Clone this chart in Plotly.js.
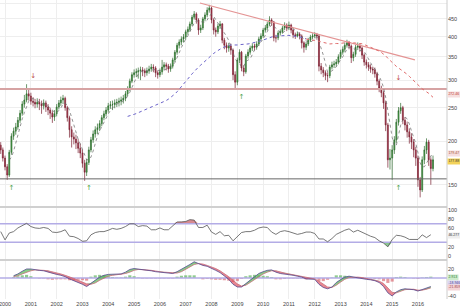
<!DOCTYPE html>
<html><head><meta charset="utf-8">
<script src="https://cdn.plot.ly/plotly-3.0.1.min.js"></script>
<style>html,body{margin:0;padding:0;background:#fff}#chart{width:460px;height:308px}</style>
</head><body><div id="chart"></div>
<script>
// ---- data (monthly candles, first candle Nov 1999) ----
const startYear = 1999, startMonth = 11;
const open = [195,189,179,169,160,186,207,214,220,230,241,256,263,274,270,261,259,256,259,256,253,258,251,246,241,235,240,251,258,263,266,250,234,216,206,203,198,191,185,173,163,174,189,202,210,216,219,225,234,240,246,253,255,255,258,259,261,263,266,274,283,298,311,315,317,319,321,319,315,319,323,327,325,315,311,317,327,332,329,323,329,343,361,378,386,394,399,413,420,435,455,465,447,418,424,450,462,477,484,447,418,413,429,435,391,378,371,376,366,311,296,343,361,325,317,352,361,371,376,373,381,394,402,418,424,435,447,441,397,397,410,413,424,432,424,432,418,405,402,407,402,384,373,381,391,399,402,405,402,329,321,315,309,309,327,332,334,338,350,361,368,378,384,376,348,356,373,376,371,354,338,332,327,323,321,313,298,284,276,258,223,177,179,189,202,227,245,250,230,223,213,206,199,189,179,155,145,177,189,199,177,167];
const high = [199,192,182,172,189,211,219,226,235,246,261,272,292,282,276,268,265,266,265,262,264,262,256,250,245,246,256,263,269,272,269,253,237,221,212,209,203,197,189,177,178,193,206,215,221,225,230,238,245,251,258,261,262,264,265,267,269,272,279,288,303,316,322,324,326,328,327,324,326,330,334,333,329,320,324,343,338,337,334,335,348,366,384,393,401,407,419,428,442,462,474,470,452,433,456,470,486,494,488,452,425,436,444,438,397,385,384,382,370,318,348,368,364,331,357,368,377,383,382,388,400,409,424,432,442,458,452,444,405,416,420,430,440,437,442,436,422,411,414,412,406,388,387,397,405,409,412,410,405,336,327,320,316,332,339,341,345,356,367,375,385,392,389,380,362,379,385,382,375,358,344,338,333,328,326,317,302,289,280,262,226,190,195,207,232,251,258,253,235,228,218,211,203,193,182,158,181,194,204,202,180,182];
const low = [184,175,165,155,158,183,202,209,216,226,237,250,259,262,255,252,249,250,246,240,247,243,238,232,226,229,236,247,253,256,245,228,205,192,196,190,185,179,168,154,159,171,186,198,205,210,214,221,230,236,242,248,246,249,251,252,254,257,261,270,279,294,305,306,303,300,308,306,309,313,317,316,306,303,306,311,321,320,315,317,324,338,355,370,378,385,392,405,414,429,448,436,405,410,418,443,455,469,437,406,400,407,421,383,368,360,362,355,300,283,290,336,318,308,313,346,355,364,365,367,376,389,397,411,417,429,430,388,385,391,403,408,418,415,418,409,396,394,398,393,370,360,366,376,386,393,396,392,318,312,306,300,296,304,322,325,328,333,345,355,362,372,368,336,340,350,366,362,345,330,324,319,315,312,305,290,277,268,248,214,168,166,155,184,198,222,240,224,215,205,197,190,180,170,148,138,143,172,184,170,150,164];
const close = [189,179,169,160,186,207,214,220,230,241,256,263,274,270,261,259,256,259,256,253,258,251,246,241,235,240,251,258,263,266,250,234,216,206,203,198,191,185,173,163,174,189,202,210,216,219,225,234,240,246,253,255,255,258,259,261,263,266,274,283,298,311,315,317,319,321,319,315,319,323,327,325,315,311,317,327,332,329,323,329,343,361,378,386,394,399,413,420,435,455,465,447,418,424,450,462,477,484,447,418,413,429,435,391,378,371,376,366,311,296,343,361,325,317,352,361,371,376,373,381,394,402,418,424,435,447,441,397,397,410,413,424,432,424,432,418,405,402,407,402,384,373,381,391,399,402,405,402,329,321,315,309,309,327,332,334,338,350,361,368,378,384,376,348,356,373,376,371,354,338,332,327,323,321,313,298,284,276,258,223,177,179,189,202,227,245,250,230,223,213,206,199,189,179,155,145,177,189,199,177,167,177];

// indicators, one value every second month (same start)
const rsi = [53,35,50,53,61,66,71,64,61,60,62,60,52,51,53,57,43,42,38,32,33,46,51,53,53,56,60,58,60,64,70,70,64,66,65,57,57,61,57,57,65,74,74,75,79,78,62,62,67,52,47,53,44,45,33,42,51,53,53,56,61,63,62,52,47,53,55,53,50,47,49,52,52,49,37,37,31,38,47,52,56,59,52,56,51,46,43,40,33,28,20,36,45,44,41,36,36,36,46,40,46.277];
const macd = [null,null,null,5,9,15,20,20,18,17,16,13,10,8,6,3,-2,-6,-9,-14,-19,-11,-5,2,6,8,8,8,9,13,19,21,20,18,17,16,14,13,12,11,10,14,19,25,30,36,32,28,26,22,17,12,5,-3,-14,-20,-20,-12,-4,4,10,14,17,18,13,10,9,8,6,4,2,-2,-3,-3,-14,-21,-24,-20,-10,-3,2,4,2,1,-1,-3,-4,-6,-10,-19,-33,-40,-31,-26,-24,-25,-26,-29,-26,-23,-19];
const signal = [null,null,null,3,5,9,13,16,18,18,17,16,14,11,9,6,3,-1,-5,-9,-13,-14,-11,-5,0,4,6,7,8,10,13,17,19,19,18,17,15,14,13,12,11,11,14,19,24,30,32,31,28,25,21,16,10,3,-5,-13,-18,-16,-10,-3,4,9,13,16,16,13,11,9,7,5,3,1,-1,-2,-7,-14,-20,-21,-16,-9,-3,1,2,2,1,-1,-3,-4,-7,-12,-22,-32,-33,-29,-26,-25,-25,-27,-27,-25,-22];

const supportLevel = 156;
const resistanceLevel = 283;
const trendDates = ['2007-07-21','2015-11-19'];
const trendPrices = [500, 343];
const upArrowDates = ['2000-04-01','2003-04-01','2009-03-01','2015-04-01'];
const upArrowPrices = [147, 147, 268, 147];
const downArrowDates = ['2001-02-01','2015-04-01'];
const downArrowPrices = [307, 303];
const rsiLevels = [70, 30];
const yearTicks = [2000,2001,2002,2003,2004,2005,2006,2007,2008,2009,2010,2011,2012,2013,2014,2015,2016];
const priceTicks = [150,200,250,300,350,400,450,500];
const rsiTicks = [0,20,60,80,100];
const macdTicks = [20,-40];
const priceLabels = ['272.46','179.47','177.88'];
const rsiLabel = '46.277';
const macdLabels = ['2.913','-18.946','-21.859'];

// ---- derived ----
const dates = close.map((_, i) => {
  const m0 = startMonth - 1 + i;
  const y = startYear + Math.floor(m0 / 12);
  const m = (m0 % 12) + 1;
  return y + '-' + String(m).padStart(2, '0') + '-01';
});
const indDates = dates.filter((_, i) => i % 2 === 0);
function sma(arr, n) {
  return arr.map((_, i) => i < n - 1 ? null : arr.slice(i - n + 1, i + 1).reduce((a, b) => a + b, 0) / n);
}
const shortMA = sma(close, 5);
const longMA = sma(close, 46);
const xRange = ['1999-10-22', '2017-02-15'];
const hist = macd.map((v, i) => v === null ? null : v - signal[i]);
const mDates = indDates.slice(3), mM = macd.slice(3), mS = signal.slice(3);

const traces = [];
traces.push({x: xRange, y: [resistanceLevel, resistanceLevel], mode: 'lines', line: {color: '#d6a3a3', width: 2}, hoverinfo: 'skip'});
traces.push({x: xRange, y: [supportLevel, supportLevel], mode: 'lines', line: {color: '#666', width: 1}, hoverinfo: 'skip'});
traces.push({x: trendDates, y: trendPrices, mode: 'lines', line: {color: '#e49494', width: 1.2}, hoverinfo: 'skip'});
traces.push({type: 'candlestick', x: dates, open: open, high: high, low: low, close: close,
  increasing: {line: {color: '#2c6a2c', width: 0.7}, fillcolor: '#48a448'},
  decreasing: {line: {color: '#7a2030', width: 0.7}, fillcolor: '#b13a4f'},
  whiskerwidth: 0, hoverinfo: 'skip'});
traces.push({x: dates, y: shortMA, mode: 'lines', line: {color: '#666', width: 0.7, dash: 'dot'}, hoverinfo: 'skip'});
traces.push({x: dates.slice(59, 143), y: longMA.slice(59, 143), mode: 'lines', line: {color: '#6b63c9', width: 1, dash: 'dot'}, hoverinfo: 'skip'});
traces.push({x: dates.slice(142), y: longMA.slice(142), mode: 'lines', line: {color: '#e06a6a', width: 1, dash: 'dot'}, hoverinfo: 'skip'});
traces.push({x: upArrowDates, y: upArrowPrices, mode: 'text', text: upArrowDates.map(() => '↑'), textfont: {color: '#3f9f3f', size: 7, family: 'DejaVu Sans'}, hoverinfo: 'skip'});
traces.push({x: downArrowDates, y: downArrowPrices, mode: 'text', text: downArrowDates.map(() => '↓'), textfont: {color: '#c0504d', size: 7, family: 'DejaVu Sans'}, hoverinfo: 'skip'});

// RSI pane
traces.push({x: indDates, y: indDates.map(() => rsiLevels[0]), yaxis: 'y2', mode: 'lines', line: {width: 0}, hoverinfo: 'skip'});
traces.push({x: indDates, y: rsi.map(v => Math.max(v, rsiLevels[0])), yaxis: 'y2', mode: 'lines', fill: 'tonexty', fillcolor: 'rgba(190,60,70,0.6)', line: {width: 0}, hoverinfo: 'skip'});
traces.push({x: indDates, y: indDates.map(() => rsiLevels[1]), yaxis: 'y2', mode: 'lines', line: {width: 0}, hoverinfo: 'skip'});
traces.push({x: indDates, y: rsi.map(v => Math.min(v, rsiLevels[1])), yaxis: 'y2', mode: 'lines', fill: 'tonexty', fillcolor: 'rgba(60,160,70,0.6)', line: {width: 0}, hoverinfo: 'skip'});
rsiLevels.forEach(l => traces.push({x: xRange, y: [l, l], yaxis: 'y2', mode: 'lines', line: {color: '#b3ace6', width: 1.5}, hoverinfo: 'skip'}));
traces.push({x: indDates, y: rsi, yaxis: 'y2', mode: 'lines', line: {color: '#555', width: 0.8}, hoverinfo: 'skip'});

// MACD pane
traces.push({x: xRange, y: [0, 0], yaxis: 'y3', mode: 'lines', line: {color: '#b3ace6', width: 1.5}, hoverinfo: 'skip'});
traces.push({type: 'bar', x: indDates, y: hist, yaxis: 'y3', marker: {color: hist.map(v => v >= 0 ? 'rgba(70,170,70,0.6)' : 'rgba(210,70,80,0.55)'), line: {width: 0}}, hoverinfo: 'skip'});
traces.push({x: mDates, y: mS, yaxis: 'y3', mode: 'lines', line: {width: 0}, hoverinfo: 'skip'});
traces.push({x: mDates, y: mM.map((v, i) => Math.max(v, mS[i])), yaxis: 'y3', mode: 'lines', fill: 'tonexty', fillcolor: 'rgba(70,180,70,0.65)', line: {width: 0}, hoverinfo: 'skip'});
traces.push({x: mDates, y: mS, yaxis: 'y3', mode: 'lines', line: {width: 0}, hoverinfo: 'skip'});
traces.push({x: mDates, y: mM.map((v, i) => Math.min(v, mS[i])), yaxis: 'y3', mode: 'lines', fill: 'tonexty', fillcolor: 'rgba(220,70,85,0.65)', line: {width: 0}, hoverinfo: 'skip'});
traces.push({x: mDates, y: mS, yaxis: 'y3', mode: 'lines', line: {color: '#c9707e', width: 0.8}, hoverinfo: 'skip'});
traces.push({x: mDates, y: mM, yaxis: 'y3', mode: 'lines', line: {color: '#54488f', width: 0.8}, hoverinfo: 'skip'});

function lab(text, yref, y, bg, color) {
  return {xref: 'paper', x: 1, xanchor: 'left', xshift: 0, yref: yref, y: y, yanchor: 'middle', text: text,
    showarrow: false, font: {size: 3.5, color: color, family: 'Liberation Sans, Arial, sans-serif'}, bgcolor: bg, borderpad: 0.4};
}
const annotations = [
  lab(priceLabels[0], 'y', Math.log10(272), '#f6dede', '#c0392b'),
  lab(priceLabels[1], 'y', Math.log10(184), '#f6dede', '#a0522d'),
  lab(priceLabels[2], 'y', Math.log10(175), '#f3d35a', '#333'),
  lab(rsiLabel, 'y2', 45, '#eeeeee', '#333'),
  lab(macdLabels[0], 'y3', 1, '#cdeccd', '#2e7d32'),
  lab(macdLabels[1], 'y3', -13, '#dcd6f3', '#4a3f8f'),
  lab(macdLabels[2], 'y3', -22, '#f3d3d6', '#a04050')
];

const axFont = {size: 5.5, color: '#444', family: 'Liberation Sans, Arial, sans-serif'};
const layout = {
  width: 460, height: 308,
  margin: {l: 0, r: 13, t: 0, b: 9, pad: 0},
  paper_bgcolor: '#fff', plot_bgcolor: '#fff',
  showlegend: false, bargap: 0.25,
  font: axFont,
  xaxis: {type: 'date', range: xRange, anchor: 'y3', showgrid: true, gridcolor: '#eeeeee', gridwidth: 1,
    tickvals: yearTicks.map(y => y + '-01-01'), ticktext: yearTicks.map(String), ticks: '', tickfont: axFont,
    ticklabeloverflow: 'allow', rangeslider: {visible: false}, showline: false, zeroline: false, automargin: false},
  yaxis: {type: 'log', domain: [0.3077, 1], range: [2.1122, 2.7076], side: 'right', anchor: 'x',
    tickvals: priceTicks, ticktext: priceTicks.map(String), gridcolor: '#eeeeee', showline: false,
    zeroline: false, ticks: '', tickfont: axFont, automargin: false},
  yaxis2: {domain: [0.1304, 0.3077], range: [-8.7, 106.5], side: 'right', anchor: 'x',
    tickvals: rsiTicks, ticktext: rsiTicks.map(String), showgrid: false, zeroline: false, ticks: '', tickfont: axFont, automargin: false},
  yaxis3: {domain: [0, 0.1304], range: [-46.7, 40], side: 'right', anchor: 'x',
    tickvals: macdTicks, ticktext: macdTicks.map(String), showgrid: false, zeroline: false, ticks: '', tickfont: axFont, automargin: false},
  shapes: [
    {type: 'line', xref: 'paper', yref: 'paper', x0: 0, x1: 1, y0: 0.3077, y1: 0.3077, line: {color: '#d0d0d0', width: 2}},
    {type: 'line', xref: 'paper', yref: 'paper', x0: 0, x1: 1, y0: 0.1304, y1: 0.1304, line: {color: '#d0d0d0', width: 2}},
    {type: 'line', xref: 'paper', yref: 'paper', x0: 1, x1: 1, y0: 0, y1: 1, line: {color: '#cccccc', width: 1}}
  ],
  annotations: annotations
};
Plotly.newPlot('chart', traces, layout, {staticPlot: true, displayModeBar: false});
</script>
</body></html>
